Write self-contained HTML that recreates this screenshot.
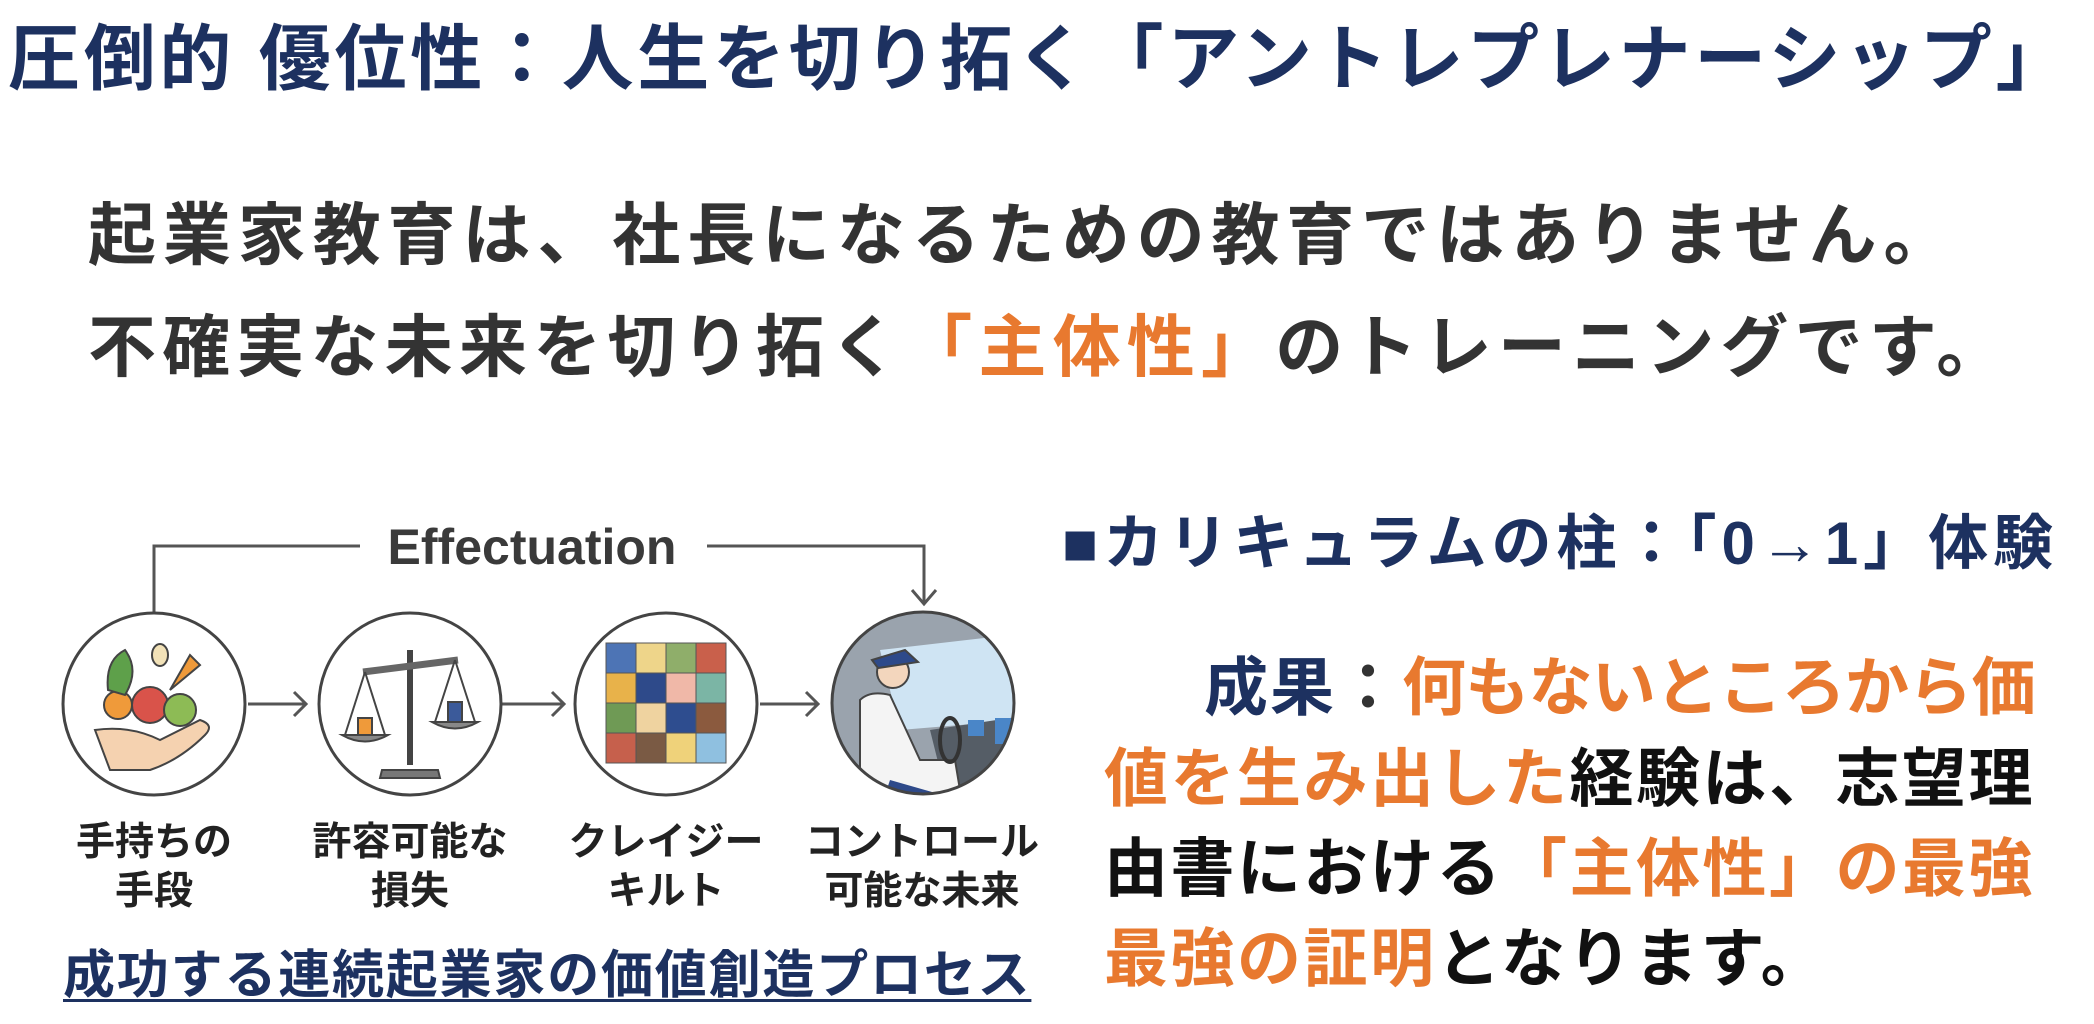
<!DOCTYPE html>
<html><head><meta charset="utf-8"><style>
html,body{margin:0;padding:0;background:#fff;}
body{width:2094px;height:1024px;position:relative;overflow:hidden;font-family:"Liberation Sans","Noto Sans CJK JP",sans-serif;}
.t{position:absolute;white-space:nowrap;font-weight:bold;line-height:1;}
.o{color:#e8792f;}
.n{color:#1d3160;}
</style></head><body>
<div class="t n" style="left:8px;top:24px;font-size:72px;letter-spacing:3.7px;">圧倒的 優位性：人生を切り拓く「アントレプレナーシップ」</div>
<div class="t" style="left:88px;top:202px;font-size:68px;letter-spacing:6.9px;color:#333;">起業家教育は、社長になるための教育ではありません。</div>
<div class="t" style="left:88px;top:314px;font-size:68px;letter-spacing:6.2px;color:#333;">不確実な未来を切り拓く<span class="o">「主体性」</span>のトレーニングです。</div>

<svg style="position:absolute;left:0;top:0" width="2094" height="1024" viewBox="0 0 2094 1024">
<defs><clipPath id="c4"><circle cx="923" cy="703" r="91"/></clipPath></defs>
<g fill="none" stroke="#555" stroke-width="3">
<polyline points="154,612 154,546 360,546"/>
<polyline points="707,546 924,546 924,604"/>
<polyline points="912,590 924,604 936,590"/>
<line x1="248" y1="704" x2="306" y2="704"/><polyline points="294,692 306,704 294,716"/>
<line x1="502" y1="704" x2="564" y2="704"/><polyline points="552,692 564,704 552,716"/>
<line x1="760" y1="704" x2="818" y2="704"/><polyline points="806,692 818,704 806,716"/>
</g>
<text x="532" y="564" font-size="50" font-weight="bold" fill="#3a3a3a" text-anchor="middle" font-family="Liberation Sans,sans-serif">Effectuation</text>
<g fill="#fff" stroke="#444" stroke-width="3">
<circle cx="154" cy="704" r="91"/><circle cx="410" cy="704" r="91"/><circle cx="666" cy="704" r="91"/>
</g>
<path d="M95 730 Q130 725 160 740 L200 720 Q215 725 205 735 Q180 760 150 770 L110 770 Z" fill="#f5d2b0" stroke="#444" stroke-width="2"/>
<circle cx="118" cy="705" r="14" fill="#ef9a3a" stroke="#444" stroke-width="2"/>
<circle cx="150" cy="705" r="18" fill="#d9534a" stroke="#444" stroke-width="2"/>
<circle cx="180" cy="710" r="16" fill="#8dbb55" stroke="#444" stroke-width="2"/>
<path d="M170 690 L190 655 L200 665 Z" fill="#ef9a3a" stroke="#444" stroke-width="2"/>
<path d="M108 690 Q105 660 125 650 Q140 670 125 695 Z" fill="#5ea04a" stroke="#444" stroke-width="2"/>
<ellipse cx="160" cy="655" rx="8" ry="11" fill="#f2e2b8" stroke="#444" stroke-width="2"/>
<g stroke="#444" stroke-width="2">
<line x1="410" y1="650" x2="410" y2="765" stroke-width="6"/>
<path d="M382 770 L438 770 L440 778 L380 778 Z" fill="#777"/>
<line x1="363" y1="672" x2="458" y2="660" stroke-width="7" stroke="#666"/>
<path d="M342 735 Q365 748 388 735 Z" fill="#888"/>
<path d="M432 722 Q455 735 478 722 Z" fill="#888"/>
<line x1="365" y1="672" x2="345" y2="735"/><line x1="365" y1="672" x2="385" y2="735"/>
<line x1="455" y1="660" x2="435" y2="722"/><line x1="455" y1="660" x2="475" y2="722"/>
<rect x="358" y="718" width="14" height="17" fill="#ef9a3a"/>
<rect x="448" y="702" width="14" height="20" fill="#3b5a9a"/>
</g>
<g stroke="#555" stroke-width="1">
<rect x="606" y="643" width="30" height="30" fill="#4d74b5"/><rect x="636" y="643" width="30" height="30" fill="#eed58a"/><rect x="666" y="643" width="30" height="30" fill="#8fae6a"/><rect x="696" y="643" width="30" height="30" fill="#c9604b"/>
<rect x="606" y="673" width="30" height="30" fill="#e8b24a"/><rect x="636" y="673" width="30" height="30" fill="#2e4a8a"/><rect x="666" y="673" width="30" height="30" fill="#f0b8a8"/><rect x="696" y="673" width="30" height="30" fill="#7bb5a5"/>
<rect x="606" y="703" width="30" height="30" fill="#6f9a55"/><rect x="636" y="703" width="30" height="30" fill="#efd3a0"/><rect x="666" y="703" width="30" height="30" fill="#2e4d8f"/><rect x="696" y="703" width="30" height="30" fill="#8b5a3e"/>
<rect x="606" y="733" width="30" height="30" fill="#c6604c"/><rect x="636" y="733" width="30" height="30" fill="#7a5a44"/><rect x="666" y="733" width="30" height="30" fill="#efd27a"/><rect x="696" y="733" width="30" height="30" fill="#8fc0e0"/>
</g>
<g clip-path="url(#c4)">
<rect x="820" y="600" width="210" height="210" fill="#9aa3ad"/>
<path d="M880 650 L1010 635 L1020 720 L900 730 Z" fill="#cfe4f3"/>
<path d="M930 730 L1030 715 L1030 810 L950 810 Z" fill="#555d66"/>
<rect x="968" y="720" width="16" height="16" fill="#4a86c8"/><rect x="995" y="718" width="16" height="26" fill="#4a86c8"/>
<path d="M860 700 Q870 690 890 695 L920 760 L955 760 L960 790 L900 810 L860 810 Z" fill="#f4f4f4" stroke="#444" stroke-width="2"/>
<path d="M890 780 L960 800 L960 810 L880 810 Z" fill="#2e4a8a"/>
<circle cx="893" cy="672" r="16" fill="#f3d6bd" stroke="#444" stroke-width="2"/>
<path d="M872 660 L905 650 L918 662 L878 668 Z" fill="#2e4a8a" stroke="#444" stroke-width="2"/>
<ellipse cx="950" cy="740" rx="10" ry="22" fill="none" stroke="#333" stroke-width="4"/>
</g>
<circle cx="923" cy="703" r="91" fill="none" stroke="#444" stroke-width="3"/>
<g font-size="39" font-weight="bold" fill="#222" text-anchor="middle" font-family="Liberation Sans,Noto Sans CJK JP,sans-serif">
<text x="154" y="855">手持ちの</text><text x="154" y="904">手段</text>
<text x="410" y="855">許容可能な</text><text x="410" y="904">損失</text>
<text x="666" y="855">クレイジー</text><text x="666" y="904">キルト</text>
<text x="922" y="855">コントロール</text><text x="922" y="904">可能な未来</text>
</g>
</svg>

<div class="t n" style="left:63px;top:950px;font-size:52px;letter-spacing:1.8px;text-decoration:underline;text-decoration-thickness:3px;text-underline-offset:6px;">成功する連続起業家の価値創造プロセス</div>

<div class="t n" style="left:1062px;top:514px;font-size:60px;letter-spacing:5px;">■カリキュラムの柱：「0→1」体験</div>

<div class="t" style="right:59px;top:656px;font-size:64px;"><span class="n" style="letter-spacing:2px">成果</span><span style="color:#333;letter-spacing:-12px">：</span><span class="o" style="margin-left:14px;letter-spacing:-0.7px">何もないところから価</span></div>
<div class="t" style="left:1104px;top:747px;font-size:64px;letter-spacing:2.5px;color:#111;"><span class="o">値を生み出した</span>経験は、志望理</div>
<div class="t" style="left:1104px;top:837px;font-size:64px;letter-spacing:2.5px;color:#111;">由書における<span class="o">「主体性」の最強</span></div>
<div class="t" style="left:1104px;top:927px;font-size:64px;letter-spacing:2.5px;color:#111;"><span class="o">最強の証明</span>となります。</div>
</body></html>
